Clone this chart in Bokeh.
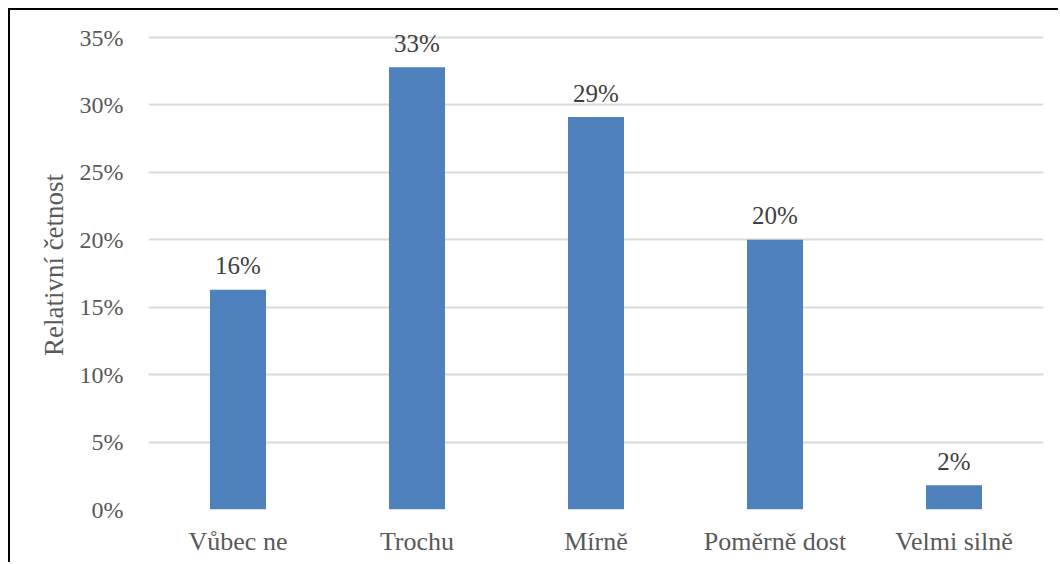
from bokeh.plotting import figure
from bokeh.models import Range1d, FixedTicker, NumeralTickFormatter, ColumnDataSource
from bokeh.core.properties import value
from bokeh.embed import file_html
from bokeh.resources import INLINE

# Relative frequency per answer category
categories = ["Vůbec ne", "Trochu", "Mírně", "Poměrně dost", "Velmi silně"]
shares = [0.163, 0.328, 0.291, 0.200, 0.018]
y_ticks = [0.0, 0.05, 0.10, 0.15, 0.20, 0.25, 0.30, 0.35]

FONT = "Liberation Serif"
BAR = "#4F81BD"

labels = [f"{round(v * 100):.0f}%" for v in shares]
src = ColumnDataSource(dict(cat=categories, val=shares, lab=labels))

# Frame is 489 px tall; the 35 % line sits 17 px below its top so the
# value label of the tallest bar has room above the last gridline.
px_per_unit = 472 / 0.35
y_top = 0.35 + 17 / px_per_unit

p = figure(
    x_range=categories,
    y_range=Range1d(0, y_top),
    width=1050,
    height=554,
    output_backend="svg",
    toolbar_location=None,
    min_border_left=138,
    min_border_right=17,
    min_border_top=10,
    min_border_bottom=55,
)
p.styles = {
    "border-left": "2px solid #000000",
    "border-top": "2px solid #000000",
    "margin-left": "8px",
    "margin-top": "8px",
}
p.outline_line_color = None
p.background_fill_color = "white"
p.border_fill_color = "white"

p.vbar(x="cat", top="val", width=0.313, source=src, color=BAR, line_color=None)

p.text(
    x="cat", y="val", text="lab", source=src,
    text_font=value(FONT), text_font_size="25px", text_color="#404040",
    text_align="center", text_baseline="alphabetic", y_offset=-24,
)

p.x_range.range_padding = 0
p.xgrid.grid_line_color = None
p.ygrid.grid_line_color = "#D9D9D9"
p.ygrid.grid_line_width = 2

p.yaxis.ticker = FixedTicker(ticks=y_ticks)
p.yaxis.formatter = NumeralTickFormatter(format="0%")
p.yaxis.axis_label = "Relativní četnost"
p.yaxis.axis_label_text_font = FONT
p.yaxis.axis_label_text_font_size = "27px"
p.yaxis.axis_label_text_font_style = "normal"
p.yaxis.axis_label_text_color = "#595959"
p.yaxis.axis_label_standoff = 8

for ax in (p.xaxis, p.yaxis):
    ax.axis_line_color = None
    ax.major_tick_line_color = None
    ax.minor_tick_line_color = None
    ax.major_label_text_font = FONT
    ax.major_label_text_color = "#595959"

p.yaxis.major_label_text_font_size = "24px"
p.yaxis.major_label_standoff = 19
p.xaxis.major_label_text_font_size = "26px"
p.xaxis.major_label_standoff = 11

with open("out.html", "w") as f:
    f.write(file_html(p, INLINE))
